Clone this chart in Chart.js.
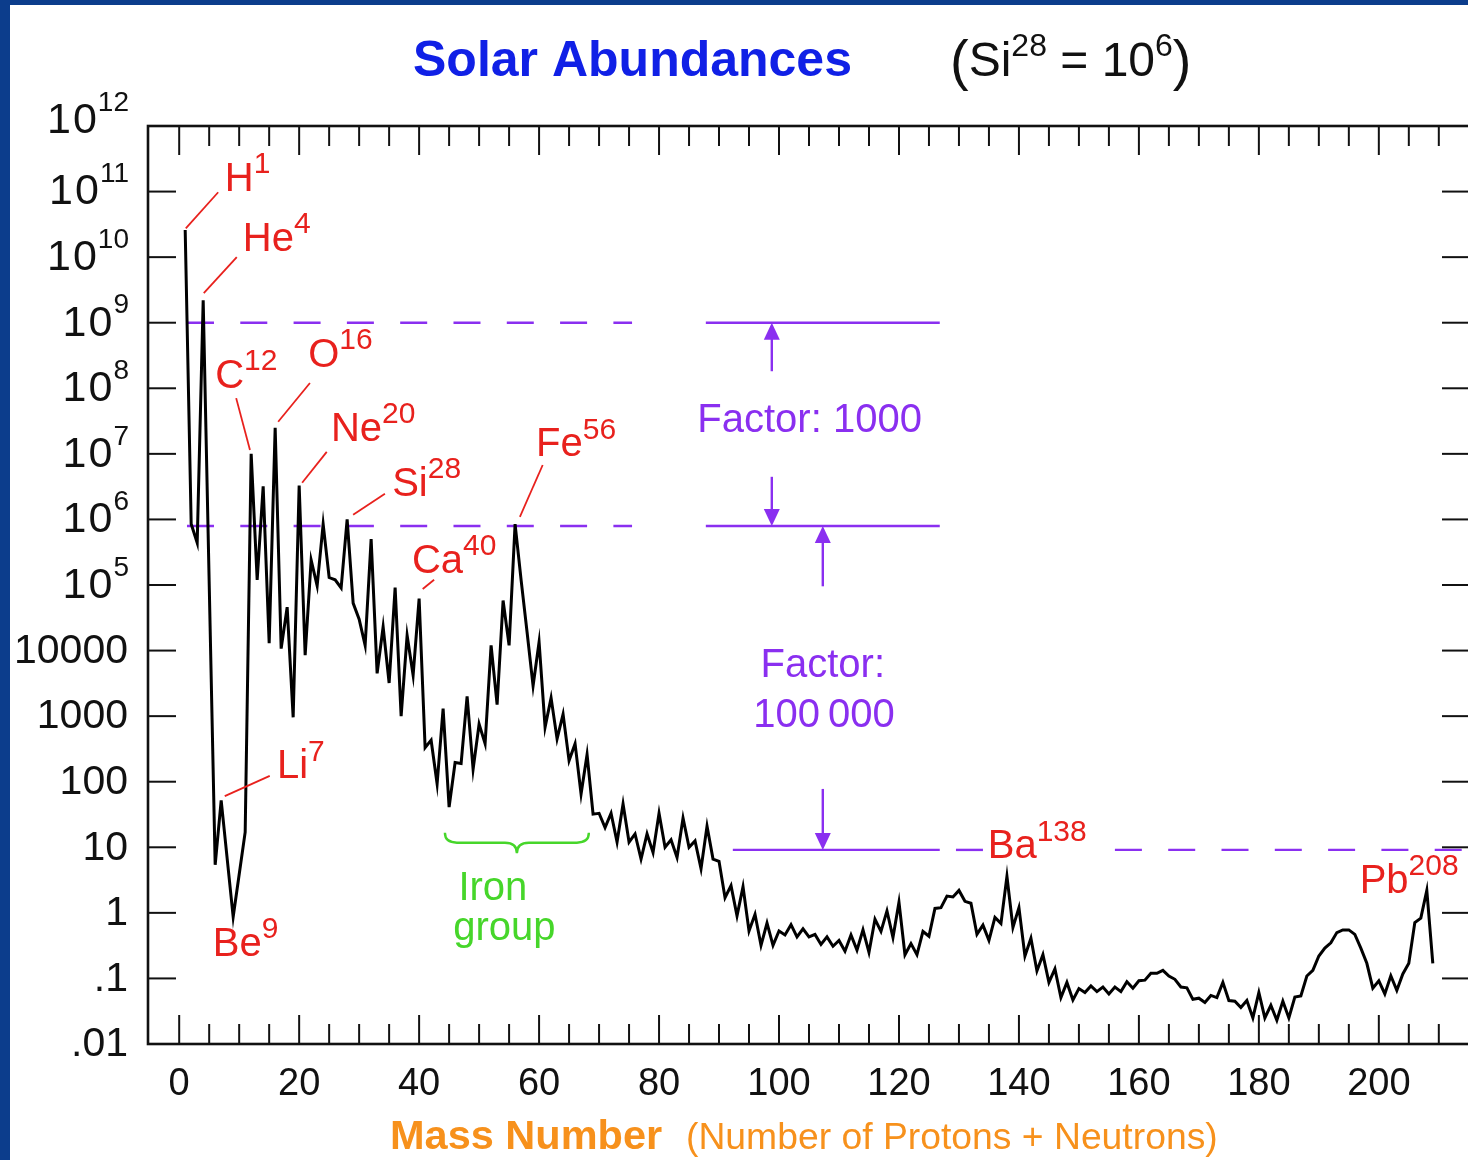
<!DOCTYPE html>
<html>
<head>
<meta charset="utf-8">
<title>Solar Abundances</title>
<script src="https://cdn.jsdelivr.net/npm/chart.js@4.4.1/dist/chart.umd.min.js"></script>
<style>
  html, body { margin: 0; padding: 0; background: #fff; overflow: hidden; }
  #wrap { position: absolute; left: 0; top: 0; width: 1500px; height: 1160px; }
  .edge { position: absolute; background: #0c3d8c; z-index: 2; }
</style>
</head>
<body>
<div id="wrap"><canvas id="abund" width="1500" height="1160"></canvas></div>
<div class="edge" style="left:0;top:0;width:10px;height:1160px"></div>
<div class="edge" style="left:0;top:0;width:1468px;height:5px"></div>
<script>
/* ---------- Daten: Häufigkeit je Massenzahl (Si28 = 10^6) ---------- */
const MASS = [
  1, 2, 3, 4, 6, 7, 9, 11, 12, 13, 14, 15, 16, 17, 18, 19, 20,
  21, 22, 23, 24, 25, 26, 27, 28, 29, 30, 31, 32, 33, 34, 35, 36, 37, 38, 39, 40,
  41, 42, 43, 44, 45, 46, 47, 48, 49, 50, 51, 52, 53, 54, 55, 56, 57, 58, 59, 60,
  61, 62, 63, 64, 65, 66, 67, 68, 69, 70, 71, 72, 73, 74, 75, 76, 77, 78, 79, 80,
  81, 82, 83, 84, 85, 86, 87, 88, 89, 90, 91, 92, 93, 94, 95, 96, 97, 98, 99, 100,
  101, 102, 103, 104, 105, 106, 107, 108, 109, 110, 111, 112, 113, 114, 115, 116, 117, 118, 119, 120,
  121, 122, 123, 124, 125, 126, 127, 128, 129, 130, 131, 132, 133, 134, 135, 136, 137, 138, 139, 140,
  141, 142, 143, 144, 145, 146, 147, 148, 149, 150, 151, 152, 153, 154, 155, 156, 157, 158, 159, 160,
  161, 162, 163, 164, 165, 166, 167, 168, 169, 170, 171, 172, 173, 174, 175, 176, 177, 178, 179, 180,
  181, 182, 183, 184, 185, 186, 187, 188, 189, 190, 191, 192, 193, 194, 195, 196, 197, 198, 199, 200,
  201, 202, 203, 204, 205, 206, 207, 208, 209
];

const ABUNDANCE = [
  2.6e10, 8.5e5, 4.4e5, 2.2e9, 5.4, 52, 0.87, 17, 1.0e7, 1.2e5, 3.2e6, 1.3e4, 2.5e7, 1.07e4, 4.6e4, 960, 3.3e6,
  8.5e3, 2.4e5, 9.7e4, 8.5e5, 1.3e5, 1.2e5, 9.0e4, 1.0e6, 5.3e4, 3.0e4, 1.2e4, 5.0e5, 4.5e3, 2.3e4, 3.2e3, 9.1e4, 1.0e3, 1.7e4, 4.2e3, 6.2e4,
  330, 430, 93, 1300, 41, 196, 190, 2000, 155, 760, 380, 1.2e4, 1500, 5.8e4, 1.2e4, 8.5e5, 1.2e5, 1.9e4, 2900, 1.35e4,
  680, 1900, 450, 1070, 210, 380, 65, 260, 32, 33, 20, 33, 12, 46, 12, 16, 6.6, 16, 8.3, 33,
  10, 13, 7, 28, 10, 12.5, 4.7, 21, 6.6, 6.1, 1.7, 2.6, 0.9, 2.5, 0.53, 0.95, 0.32, 0.7, 0.32, 0.53,
  0.46, 0.66, 0.43, 0.57, 0.43, 0.47, 0.33, 0.43, 0.31, 0.38, 0.26, 0.46, 0.27, 0.55, 0.25, 0.8, 0.52, 1.07, 0.42, 1.45,
  0.23, 0.34, 0.23, 0.52, 0.44, 1.17, 1.2, 1.8, 1.75, 2.2, 1.5, 1.4, 0.47, 0.65, 0.38, 0.85, 0.69, 3.6, 0.6, 1.2,
  0.22, 0.41, 0.13, 0.23, 0.087, 0.14, 0.051, 0.087, 0.047, 0.07, 0.061, 0.077, 0.063, 0.074, 0.058, 0.074, 0.063, 0.089, 0.071, 0.092,
  0.094, 0.12, 0.12, 0.133, 0.109, 0.097, 0.074, 0.072, 0.048, 0.05, 0.043, 0.055, 0.051, 0.087, 0.046, 0.045, 0.036, 0.046, 0.025, 0.061,
  0.025, 0.039, 0.023, 0.045, 0.025, 0.052, 0.054, 0.109, 0.133, 0.22, 0.29, 0.35, 0.5, 0.55, 0.55, 0.47, 0.29, 0.17, 0.071, 0.092,
  0.058, 0.11, 0.066, 0.117, 0.17, 0.71, 0.83, 2.2, 0.17
];

// Achsen
const X_TICKS = [0, 20, 40, 60, 80, 100, 120, 140, 160, 180, 200];
const X_MINOR_STEP = 5;
const Y_TICKS = [1e-2, 1e-1, 1, 10, 100, 1000, 1e4, 1e5, 1e6, 1e7, 1e8, 1e9, 1e10, 1e11, 1e12];
const Y_TICK_LABELS = [
  [".01"], [".1"], ["1"], ["10"], ["100"], ["1000"], ["10000"],
  ["10", "5"], ["10", "6"], ["10", "7"], ["10", "8"], ["10", "9"], ["10", "10"], ["10", "11"], ["10", "12"]
];

// markierte Isotope: [Symbol, Massenzahl, Textposition (A, log10), Leitlinie von / bis (A, log10)]
const ISOTOPES = [
  ["H", "1", 7.6, 11.18, [1.1, 10.44, 6.5, 10.99]],
  ["He", "4", 10.6, 10.26, [4.1, 9.45, 9.6, 10.0]],
  ["C", "12", 6.0, 8.17, [11.8, 7.06, 9.5, 7.85]],
  ["O", "16", 21.5, 8.5, [16.5, 7.49, 21.8, 8.08]],
  ["Ne", "20", 25.3, 7.37, [20.5, 6.56, 24.6, 7.03]],
  ["Si", "28", 35.5, 6.53, [29.0, 6.07, 34.3, 6.39]],
  ["Ca", "40", 38.8, 5.35, [40.6, 4.94, 42.5, 5.08]],
  ["Fe", "56", 59.5, 7.13, [56.8, 6.04, 60.6, 6.83]],
  ["Li", "7", 16.3, 2.22, [7.6, 1.78, 15.1, 2.09]],
  ["Be", "9", 5.6, -0.49, null],
  ["Ba", "138", 134.8, 1.0, null],
  ["Pb", "208", 196.8, 0.47, null]
];

const FONT = '"Liberation Sans", Arial, Helvetica, sans-serif';
const RED = "#e8211d";
const PURPLE = "#8a2ff0";
const GREEN = "#46d62a";
const ORANGE = "#f7911c";
const TITLE_BLUE = "#1020e6";

/* ---------- Hilfsfunktionen ---------- */
function runs(ctx, parts, x, y, align) {
  // parts: [text, font, dy, Abstand danach]
  let w = 0;
  parts.forEach((p) => { ctx.font = p[1]; w += ctx.measureText(p[0]).width + (p[3] || 0); });
  let cx = align === "right" ? x - w : align === "center" ? x - w / 2 : x;
  ctx.textAlign = "left";
  ctx.textBaseline = "middle";
  parts.forEach((p) => {
    ctx.font = p[1];
    ctx.fillText(p[0], cx, y + (p[2] || 0));
    cx += ctx.measureText(p[0]).width + (p[3] || 0);
  });
}

function line(ctx, x1, y1, x2, y2) {
  ctx.beginPath();
  ctx.moveTo(x1, y1);
  ctx.lineTo(x2, y2);
  ctx.stroke();
}

function arrow(ctx, x, yFrom, yTip) {
  const dir = yTip < yFrom ? 1 : -1;
  line(ctx, x, yFrom, x, yTip + dir * 10);
  ctx.beginPath();
  ctx.moveTo(x, yTip);
  ctx.lineTo(x - 8, yTip + dir * 17);
  ctx.lineTo(x + 8, yTip + dir * 17);
  ctx.closePath();
  ctx.fill();
}

/* ---------- Plugin: Hilfslinien (hinter der Kurve) ---------- */
const guidePlugin = {
  id: "guides",
  beforeDatasetsDraw(chart) {
    const { ctx, scales: { x, y }, chartArea } = chart;
    const X = (a) => x.getPixelForValue(a);
    const Y = (e) => y.getPixelForValue(Math.pow(10, e));
    ctx.save();
    ctx.strokeStyle = PURPLE;
    ctx.fillStyle = PURPLE;
    ctx.lineWidth = 2.4;

    // gestrichelte Niveaus
    ctx.setLineDash([27, 26.3]);
    line(ctx, X(1.3), Y(9), X(75.5), Y(9));
    line(ctx, X(1.3), Y(5.9), X(75.5), Y(5.9));
    line(ctx, X(129.5), Y(0.96), X(134.2), Y(0.96));
    line(ctx, X(156), Y(0.96), chartArea.right, Y(0.96));
    ctx.setLineDash([]);

    // durchgezogene Niveaus
    line(ctx, X(87.8), Y(9), X(126.8), Y(9));
    line(ctx, X(87.8), Y(5.9), X(126.8), Y(5.9));
    line(ctx, X(92.3), Y(0.96), X(126.8), Y(0.96));

    // Pfeile
    arrow(ctx, X(98.8), Y(8.26), Y(9));
    arrow(ctx, X(98.8), Y(6.65), Y(5.9));
    arrow(ctx, X(107.3), Y(4.98), Y(5.9));
    arrow(ctx, X(107.3), Y(1.89), Y(0.96));

    // Texte
    runs(ctx, [["Factor: 1000", "40px " + FONT]], X(105.1), Y(7.5), "center");
    runs(ctx, [["Factor:", "40px " + FONT]], X(107.3), Y(3.76), "center");
    runs(ctx, [["100\u2009000", "40px " + FONT]], X(107.5), Y(3.0), "center");

    // Eisengruppe
    ctx.strokeStyle = GREEN;
    ctx.fillStyle = GREEN;
    ctx.lineWidth = 2.4;
    const L = X(44.3), R = X(68.3), C = X(56.3);
    const top = Y(1.22), mid = Y(1.07), bot = Y(0.91);
    ctx.beginPath();
    ctx.moveTo(L, top);
    ctx.quadraticCurveTo(L, mid, L + 12, mid);
    ctx.lineTo(C - 12, mid);
    ctx.quadraticCurveTo(C, mid, C, bot);
    ctx.quadraticCurveTo(C, mid, C + 12, mid);
    ctx.lineTo(R - 12, mid);
    ctx.quadraticCurveTo(R, mid, R, top);
    ctx.stroke();
    runs(ctx, [["Iron", "40px " + FONT]], X(52.3), Y(0.37), "center");
    runs(ctx, [["group", "40px " + FONT]], X(54.2), Y(-0.25), "center");
    ctx.restore();
  },

  /* ---------- Rahmen, Striche, Beschriftungen ---------- */
  afterDatasetsDraw(chart) {
    const { ctx, scales: { x, y }, chartArea: ca } = chart;
    const X = (a) => x.getPixelForValue(a);
    const Y = (e) => y.getPixelForValue(Math.pow(10, e));
    ctx.save();
    ctx.strokeStyle = "#111";
    ctx.fillStyle = "#111";

    // Striche
    ctx.lineWidth = 2;
    for (let a = 0; a <= x.max; a += X_MINOR_STEP) {
      const px = x.getPixelForValue(a);
      if (px >= ca.right - 2) break;
      const len = a % 20 === 0 ? 29 : 20;
      line(ctx, px, ca.bottom, px, ca.bottom - len);
      line(ctx, px, ca.top, px, ca.top + len);
    }
    Y_TICKS.forEach((v) => {
      const py = y.getPixelForValue(v);
      line(ctx, ca.left, py, ca.left + 28, py);
      line(ctx, ca.right, py, ca.right - 28, py);
    });

    // Rahmen
    ctx.lineWidth = 2.6;
    ctx.strokeRect(ca.left, ca.top, ca.right - ca.left, ca.bottom - ca.top);

    // Y-Beschriftung
    Y_TICKS.forEach((v, i) => {
      const py = y.getPixelForValue(v);
      const lab = Y_TICK_LABELS[i];
      if (lab.length === 1) {
        runs(ctx, [[lab[0], "41px " + FONT]], 128, py + 1, "right");
      } else {
        const yy = i === Y_TICKS.length - 1 ? py - 6 : py;
        runs(ctx, [
          ["1", "43px " + FONT, 1, 2],
          ["0", "43px " + FONT, 1, 1],
          [lab[1], "28px " + FONT, -17]
        ], 129, yy, "right");
      }
    });

    // X-Beschriftung
    X_TICKS.forEach((a) => {
      runs(ctx, [[String(a), "38px " + FONT]], X(a), 1085, "center");
    });

    // Isotopen-Beschriftung
    ctx.strokeStyle = RED;
    ctx.fillStyle = RED;
    ctx.lineWidth = 1.8;
    ISOTOPES.forEach(([sym, sup, a, e, lead]) => {
      if (lead) line(ctx, X(lead[0]), Y(lead[1]), X(lead[2]), Y(lead[3]));
      runs(ctx, [[sym, "40px " + FONT], [sup, "30px " + FONT, -15]], X(a), Y(e), "left");
    });

    // Titel
    ctx.fillStyle = TITLE_BLUE;
    runs(ctx, [["Solar Abundances", "bold 50px " + FONT]], 413, 62, "left");
    ctx.fillStyle = "#111";
    runs(ctx, [
      ["(", "56px " + FONT, 1],
      ["Si", "48px " + FONT],
      ["28", "32px " + FONT, -16],
      [" = 10", "48px " + FONT],
      ["6", "32px " + FONT, -16],
      [")", "56px " + FONT, 1]
    ], 950, 63, "left");

    // Achsentitel
    ctx.fillStyle = ORANGE;
    runs(ctx, [["Mass Number", "bold 41.5px " + FONT]], 390, 1138, "left");
    runs(ctx, [["(Number of Protons + Neutrons)", "37.3px " + FONT]], 686, 1139, "left");
    ctx.restore();
  }
};

/* ---------- Chart ---------- */
const ctx = document.getElementById("abund").getContext("2d");
new Chart(ctx, {
  type: "line",
  data: {
    datasets: [{
      data: MASS.map((m, i) => ({ x: m, y: ABUNDANCE[i] })),
      borderColor: "#000",
      borderWidth: 3,
      pointRadius: 0,
      tension: 0,
      fill: false,
      borderJoinStyle: "miter"
    }]
  },
  options: {
    responsive: false,
    animation: false,
    devicePixelRatio: 1,
    layout: { padding: { top: 126, right: 30, left: 0, bottom: 0 } },
    plugins: { legend: { display: false }, tooltip: { enabled: false }, title: { display: false } },
    scales: {
      x: {
        type: "linear", min: -5.2, max: 215.2,
        ticks: { display: false }, grid: { display: false }, border: { display: false },
        afterFit: (s) => { s.height = 116; }
      },
      y: {
        type: "logarithmic", min: 0.01, max: 1e12,
        ticks: { display: false }, grid: { display: false }, border: { display: false },
        afterFit: (s) => { s.width = 148; }
      }
    }
  },
  plugins: [guidePlugin]
});
</script>
</body>
</html>
